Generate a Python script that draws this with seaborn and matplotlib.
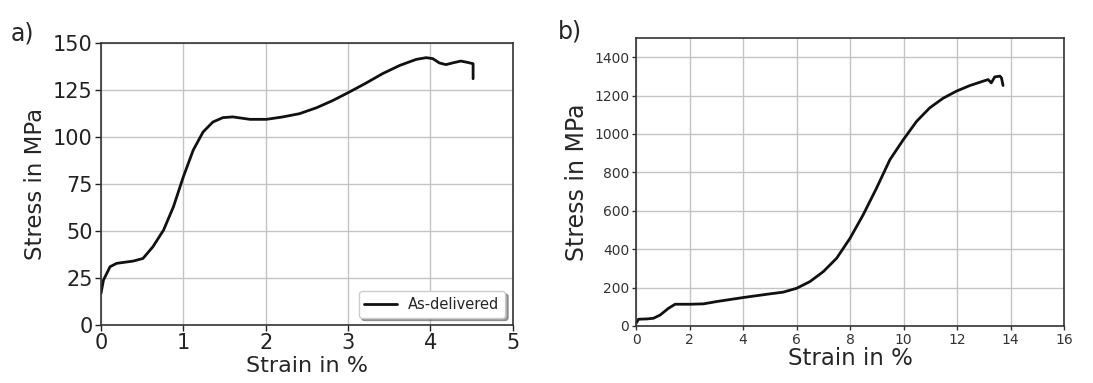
import matplotlib
matplotlib.use("Agg")
import matplotlib.pyplot as plt
import seaborn as sns
import pandas as pd

# Panel a) As-delivered
strain_a = [0.0, 0.03, 0.11, 0.19, 0.39, 0.51, 0.63, 0.76, 0.88, 1.0, 1.12, 1.24, 1.36,
            1.48, 1.6, 1.81, 2.01, 2.21, 2.41, 2.62, 2.82, 3.02, 3.22, 3.42, 3.63, 3.83,
            3.95, 4.03, 4.11, 4.19, 4.27, 4.37, 4.43, 4.52, 4.52]
stress_a = [16.8, 23.9, 31.0, 32.8, 34.0, 35.4, 41.6, 50.5, 62.9, 78.8, 93.0, 102.7, 108.0,
            110.3, 110.7, 109.4, 109.4, 110.7, 112.4, 115.6, 119.5, 124.0, 128.7, 133.7,
            138.1, 141.3, 142.2, 141.7, 139.4, 138.5, 139.4, 140.4, 139.9, 139.0, 131.0]

# Panel b)
strain_b = [0.0, 0.09, 0.4, 0.65, 0.9, 1.21, 1.46, 2.02, 2.52, 3.01, 4.01, 5.0, 5.5, 6.0,
            6.5, 7.0, 7.5, 8.0, 8.49, 8.99, 9.49, 9.99, 10.49, 10.98, 11.48, 11.98, 12.48,
            12.98, 13.16, 13.28, 13.41, 13.6, 13.66, 13.72]
stress_b = [14, 35, 36.5, 40, 57, 92, 113, 113, 115, 127, 148, 167, 176, 196, 231, 283,
            353, 457, 579, 718, 866, 970, 1066, 1136, 1186, 1223, 1252, 1275, 1283, 1266,
            1297, 1301, 1292, 1252]

label_a = "As-delivered"
xlabel = "Strain in %"
ylabel = "Stress in MPa"

sns.set_style("whitegrid", {"axes.edgecolor": "#333333", "grid.color": "#c4c4c4",
                            "xtick.bottom": True, "ytick.left": True})
plt.rcParams['font.family'] = ['DejaVu Sans']

fig = plt.figure(figsize=(10.93, 3.83), dpi=100)
ax1 = fig.add_axes([0.0924, 0.1514, 0.3766, 0.7363])
ax2 = fig.add_axes([0.582, 0.149, 0.3915, 0.752])

df_a = pd.DataFrame({"strain": strain_a, "stress": stress_a})
df_b = pd.DataFrame({"strain": strain_b, "stress": stress_b})

sns.lineplot(data=df_a, x="strain", y="stress", sort=False, estimator=None,
             color="#111111", lw=2, label=label_a, ax=ax1)
sns.lineplot(data=df_b, x="strain", y="stress", sort=False, estimator=None,
             color="#111111", lw=2, ax=ax2)

ax1.set_xlim(0, 5)
ax1.set_ylim(0, 150)
ax1.set_xticks([0, 1, 2, 3, 4, 5])
ax1.set_yticks([0, 25, 50, 75, 100, 125, 150])
ax1.tick_params(labelsize=15, colors="#222222", length=4, width=1, pad=2)
ax1.set_xlabel(xlabel, fontsize=16, labelpad=2)
ax1.set_ylabel(ylabel, fontsize=16.5, labelpad=4)
leg = ax1.legend(loc="lower right", fontsize=10.5, frameon=True, shadow=True,
                 fancybox=True, framealpha=1, handlelength=2.2)
leg.get_frame().set_edgecolor("#cccccc")

ax2.set_xlim(0, 16)
ax2.set_ylim(0, 1500)
ax2.set_xticks(range(0, 17, 2))
ax2.set_yticks(range(0, 1401, 200))
ax2.tick_params(labelsize=10, colors="#333333", length=3, width=1, pad=2)
ax2.set_xlabel(xlabel, fontsize=16.5, labelpad=0)
ax2.set_ylabel(ylabel, fontsize=17, labelpad=4)

for ax in (ax1, ax2):
    for s in ax.spines.values():
        s.set_linewidth(1.2)
    ax.grid(True, color="#c4c4c4", lw=1)

fig.text(0.010, 0.895, "a)", fontsize=17)
fig.text(0.510, 0.90, "b)", fontsize=17)

fig.savefig("out.png", dpi=100, facecolor="white")
